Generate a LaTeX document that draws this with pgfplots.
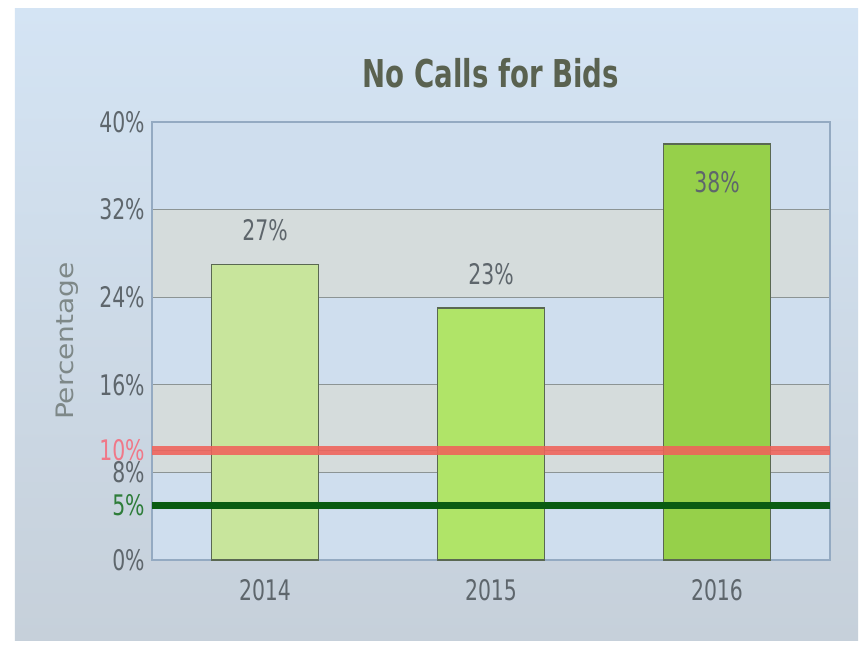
\documentclass[border=0pt]{standalone}
\usepackage{pgfplots}
\pgfplotsset{compat=1.18}
\usepackage{fontspec}
\setmainfont{DejaVu Sans Condensed}
\definecolor{bgtop}{HTML}{D4E4F4}
\definecolor{bgbot}{HTML}{C6D0DA}
\definecolor{bandblue}{HTML}{CFDEEE}
\definecolor{bandgrey}{HTML}{D5DCDC}
\definecolor{gridc}{HTML}{8C9494}
\definecolor{framec}{HTML}{94AAC2}
\definecolor{tickc}{HTML}{5E666C}
\definecolor{ylabc}{HTML}{7E8888}
\definecolor{titlec}{HTML}{5A6250}
\definecolor{redl}{HTML}{F0625A}
\definecolor{greenl}{HTML}{0A5C12}
\definecolor{redt}{HTML}{F07888}
\definecolor{greent}{HTML}{2E7D3A}
\definecolor{barA}{HTML}{C8E59C}
\definecolor{barB}{HTML}{B0E468}
\definecolor{barC}{HTML}{96D04A}
\definecolor{bard}{HTML}{5A6852}
\newcommand{\vs}[1]{\scalebox{1}[1.25]{#1}}
\pgfdeclarelayer{bglayer}
\pgfplotsset{
  layers/mylayers/.define layer set={
    bglayer, axis background, axis grid, axis ticks, axis lines, axis tick labels,
    pre main, main, axis descriptions, axis foreground
  }{},
}
\begin{document}
\begin{tikzpicture}
\begin{axis}[
  set layers=mylayers,
  at={(114pt,65.25pt)}, anchor=south west,
  scale only axis, width=508.5pt, height=328.5pt,
  xmin=-0.5, xmax=2.5, ymin=0, ymax=40,
  xtick={0,1,2}, xticklabels={\vs{2014},\vs{2015},\vs{2016}},
  ytick={0,5,8,10,16,24,32,40},
  yticklabels={\vs{0\%},\vs{\textcolor{greent}{5\%}},\vs{8\%},\vs{\textcolor{redt}{10\%}},\vs{16\%},\vs{24\%},\vs{32\%},\vs{40\%}},
  major tick length=0pt,
  ymajorgrids, grid style={gridc, line width=1pt},
  axis line style={framec, line width=0.8pt},
  tick label style={font=\fontsize{17}{19}\selectfont, text=tickc},
  yticklabel style={xshift=-2pt},
  xticklabel style={yshift=-11pt},
  ylabel={\scalebox{1.3}[1]{Percentage}},
  ylabel style={font=\fontsize{18}{20}\selectfont, text=ylabc, yshift=9pt},
  title={\scalebox{1}[1.25]{\textbf{No Calls for Bids}}},
  title style={font=\fontsize{23}{27}\selectfont, text=titlec, yshift=16pt},
  /pgf/number format/assume math mode=true,
]
\begin{pgfonlayer}{bglayer}
\fill[white] (rel axis cs:-0.22419,-0.19863) rectangle (rel axis cs:1.05605,1.27854);
\shade[top color=bgtop, bottom color=bgbot] (rel axis cs:-0.2021,-0.18265) rectangle (rel axis cs:1.0413,1.26027);
\end{pgfonlayer}
\begin{pgfonlayer}{axis background}
\fill[bandblue] (axis cs:-0.5,0) rectangle (axis cs:2.5,40);
\fill[bandgrey] (axis cs:-0.5,8) rectangle (axis cs:2.5,16);
\fill[bandgrey] (axis cs:-0.5,24) rectangle (axis cs:2.5,32);
\end{pgfonlayer}
\addplot[ybar, bar width=0.475, bar shift=0pt, fill=barA, draw=bard, line width=1.2pt,
  nodes near coords={\vs{\pgfmathprintnumber{\pgfplotspointmeta}\%}},
  nodes near coords style={anchor=center, yshift=25.5pt, font=\fontsize{17}{19}\selectfont, text=tickc}]
  coordinates {(0,27)};
\addplot[ybar, bar width=0.475, bar shift=0pt, fill=barB, draw=bard, line width=1.2pt,
  nodes near coords={\vs{\pgfmathprintnumber{\pgfplotspointmeta}\%}},
  nodes near coords style={anchor=center, yshift=25.5pt, font=\fontsize{17}{19}\selectfont, text=tickc}]
  coordinates {(1,23)};
\addplot[ybar, bar width=0.475, bar shift=0pt, fill=barC, draw=bard, line width=1.2pt,
  nodes near coords={\vs{\pgfmathprintnumber{\pgfplotspointmeta}\%}},
  nodes near coords style={anchor=center, yshift=-28.5pt, font=\fontsize{17}{19}\selectfont, text=tickc}]
  coordinates {(2,38)};
\addplot[redl, line width=7pt, opacity=0.88] coordinates {(-0.5,10) (2.5,10)};
\addplot[greenl, line width=5.5pt] coordinates {(-0.5,5) (2.5,5)};
\end{axis}
\path (0pt,0pt) rectangle (651pt,485.25pt);
\end{tikzpicture}
\end{document}
